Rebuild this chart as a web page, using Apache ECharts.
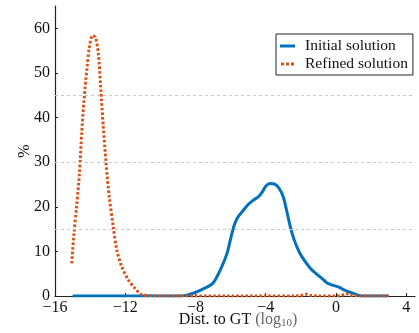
<!DOCTYPE html>
<html><head><meta charset="utf-8">
<script src="https://cdn.jsdelivr.net/npm/echarts@6/dist/echarts.min.js"></script>
<style>html,body{margin:0;padding:0;background:#fff}#c{width:419px;height:333px}</style>
</head><body><div id="c"></div>
<script>
var xTicks = [-16, -12, -8, -4, 0, 4];
var yTicks = [0, 10, 20, 30, 40, 50, 60];
var gridLevels = [15, 30, 45];
var initialX = [-15,-14,-13,-12,-11,-10,-9,-8.5,-8,-7.5,-7,-6.5,-6.2,-6,-5.8,-5.6,-5.3,-5,-4.7,-4.4,-4.2,-4,-3.75,-3.5,-3.25,-3,-2.8,-2.6,-2.4,-2.2,-2,-1.8,-1.5,-1.25,-1,-0.75,-0.5,-0.25,0,0.25,0.5,0.75,1,1.3,1.5,2,3];
var initialY = [0,0,0,0,0,0,0,0.2,0.8,1.7,2.9,6.6,9.6,12.8,15.8,17.6,19.1,20.5,21.5,22.3,23.3,24.6,25.2,25.1,24.2,22.2,19,15.5,12.8,10.8,9.2,8,6.4,5.4,4.6,3.8,2.9,2.5,2.2,1.8,1.3,0.9,0.6,0.1,0,0,0];
var refinedX = [-15.05,-14.92,-14.77,-14.61,-14.48,-14.35,-14.19,-14.04,-13.85,-13.7,-13.53,-13.4,-13.25,-13.09,-12.91,-12.68,-12.48,-12.2,-11.82,-11.44,-11.06,-10.5,-10,-8,-6,-4,-2.3,-2,-1.7,-1.4,-1,0,0.3,0.6,0.9,1.5,3];
var refinedY = [7.3,14,20,27.4,36.4,43.8,50.6,55.8,58.4,58,54.3,46.8,37.9,29.7,22.2,15.5,10.3,6.6,3.6,1.7,0.3,0.1,0,0,0,0,0,0.1,0.4,0.1,0,0,0.1,0.5,0.1,0,0];

function pairs(xs, ys){ return xs.map(function(x,i){return [x, ys[i]];}); }
var font = 'Liberation Serif';
var chart = echarts.init(document.getElementById('c'), null, {renderer:'canvas'});
chart.setOption({
  animation:false,
  grid:{left:55, right:4, top:6, bottom:37, containLabel:false, outerBoundsMode:'none'},
  legend:{
    orient:'vertical', left:276, top:34, padding:[4,5,3,4], itemGap:2,
    borderColor:'#222', borderWidth:1, backgroundColor:'#fff',
    itemWidth:15, itemHeight:3,
    textStyle:{fontFamily:font, fontSize:15.5, color:'#111', padding:[0,0,0,5]},
    data:[
      {name:'Initial solution', icon:'path://M0,0h15v3h-15z', itemStyle:{color:'#0072BD'}},
      {name:'Refined solution', icon:'path://M0,0h3v3h-3zM5,0h3v3h-3zM10,0h3v3h-3z', itemStyle:{color:'#D95319'}}
    ]
  },
  xAxis:{
    type:'value', min:-16, max:4.5, interval:4,
    axisLine:{onZero:false, lineStyle:{color:'#222', width:1.2}},
    axisTick:{inside:true, length:3, lineStyle:{color:'#222'}, customValues: xTicks},
    splitLine:{show:false},
    axisLabel:{fontFamily:font, fontSize:16, color:'#111', margin:4,
      customValues: xTicks,
      formatter:function(v){ return v<0 ? '\u2212'+Math.abs(v) : String(v); }},
    name:'{a|Dist. to GT }{b|(log}{s|10}{b|)}', nameLocation:'middle', nameGap:14, nameMoveOverlap:false,
    nameTextStyle:{verticalAlign:'top', padding:[0,0,0,6], rich:{
      a:{fontFamily:font, fontSize:16, color:'#111'},
      b:{fontFamily:font, fontSize:16, color:'#666'},
      s:{fontFamily:font, fontSize:11, color:'#666', verticalAlign:'bottom', padding:[8,0,0,0]}
    }}
  },
  yAxis:{
    type:'value', min:0, max:65, interval:10,
    axisLine:{show:true, onZero:false, lineStyle:{color:'#222', width:1.2}},
    axisTick:{show:true, inside:true, length:3, lineStyle:{color:'#222'}, customValues: yTicks},
    splitLine:{show:false},
    axisLabel:{fontFamily:font, fontSize:16, color:'#111', margin:5, customValues: yTicks},
    name:'%', nameLocation:'middle', nameGap:22, nameRotate:90, nameMoveOverlap:false,
    nameTextStyle:{fontFamily:font, fontSize:16, color:'#111'}
  },
  series:[
    {name:'Initial solution', type:'line', smooth:0.3, symbol:'none',
     data:pairs(initialX, initialY), color:'#0072BD',
     lineStyle:{color:'#0072BD', width:3},
     markLine:{silent:true, symbol:'none', label:{show:false},
       lineStyle:{color:'#c8c8c8', type:[3,3], width:1},
       data: gridLevels.map(function(v){return {yAxis:v};})}
    },
    {name:'Refined solution', type:'line', smooth:0.3, symbol:'none',
     data:pairs(refinedX, refinedY), color:'#D95319',
     lineStyle:{color:'#D95319', width:3, type:[2.6,2]}}
  ]
});
</script></body></html>
